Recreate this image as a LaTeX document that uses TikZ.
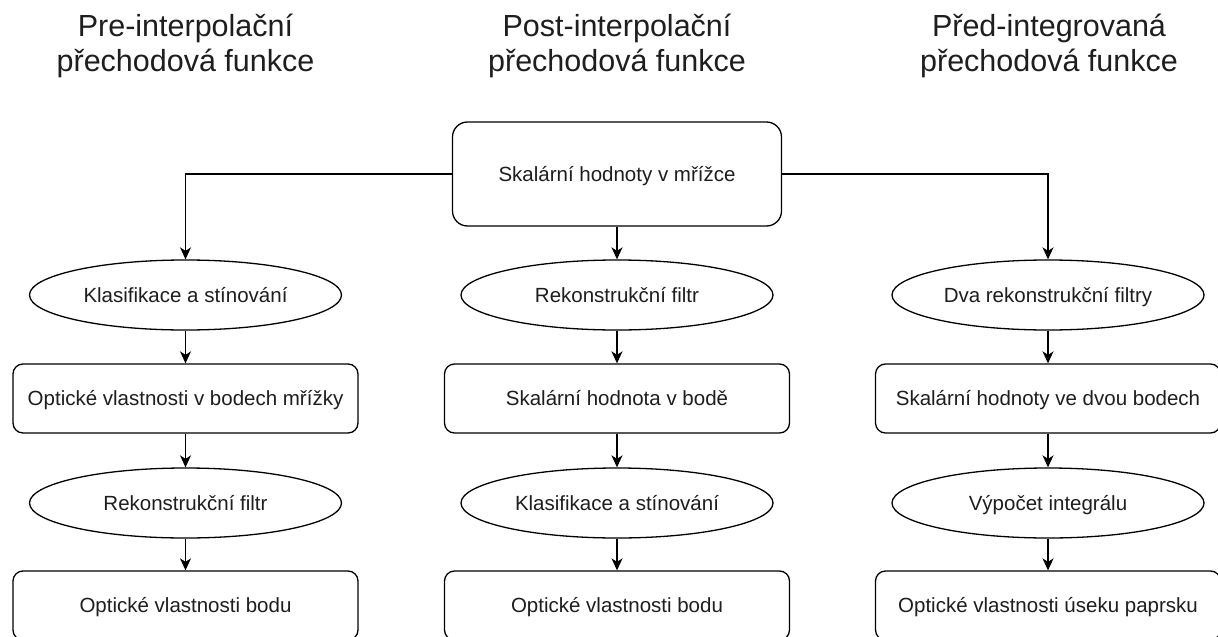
\documentclass[tikz,border=0pt]{standalone}
\usepackage{fontspec}
\setmainfont{Liberation Sans}
\usetikzlibrary{arrows.meta,shapes.geometric}
\definecolor{txt}{HTML}{1E1E1E}
\begin{document}
\begin{tikzpicture}[x=1pt,y=-1pt,
  conn/.style={line width=1.4pt,draw=black,-{Stealth[length=12pt,width=11pt,inset=3.5pt]}},
  title/.style={anchor=base,inner sep=0pt,text=txt,font=\fontsize{30.5}{35}\selectfont},
  shapetext/.style={font=\fontsize{20.5}{24}\selectfont,text=txt,text height=14.7pt,text depth=0pt,inner sep=0pt,fill=white,draw=black,line width=1.3pt},
  bigbox/.style={shapetext,rectangle,rounded corners=15pt,minimum width=329pt,minimum height=104pt},
  stepbox/.style={shapetext,rectangle,rounded corners=10pt,minimum width=345pt,minimum height=69pt},
  oval/.style={shapetext,ellipse,minimum width=312pt,minimum height=70pt}
]
\clip (0,0) rectangle (1218,637);
\fill[white] (0,0) rectangle (1218,637);

% titles
\node[title] (t1a) at (185.5,36.5) {Pre-interpolační};
\node[title] (t1b) at (185.5,71.5) {přechodová funkce};
\node[title] (t2a) at (617,36.5) {Post-interpolační};
\node[title] (t2b) at (617,71.5) {přechodová funkce};
\node[title] (t3a) at (1049,36.5) {Před-integrovaná};
\node[title] (t3b) at (1049,71.5) {přechodová funkce};

% top
\node[bigbox] (top) at (617,174) {Skalární hodnoty v mřížce};

% left column
\node[oval] (l1) at (185.5,295) {Klasifikace a stínování};
\node[stepbox] (l2) at (185.5,398.5) {Optické vlastnosti v bodech mřížky};
\node[oval] (l3) at (185.5,503) {Rekonstrukční filtr};
\node[stepbox] (l4) at (185.5,605.5) {Optické vlastnosti bodu};

% middle column
\node[oval] (m1) at (617,295) {Rekonstrukční filtr};
\node[stepbox] (m2) at (617,398.5) {Skalární hodnota v bodě};
\node[oval] (m3) at (617,503) {Klasifikace a stínování};
\node[stepbox] (m4) at (617,605.5) {Optické vlastnosti bodu};

% right column
\node[oval] (r1) at (1048,295) {Dva rekonstrukční filtry};
\node[stepbox] (r2) at (1048,398.5) {Skalární hodnoty ve dvou bodech};
\node[oval] (r3) at (1048,503) {Výpočet integrálu};
\node[stepbox] (r4) at (1048,605.5) {Optické vlastnosti úseku paprsku};

% connectors
\draw[conn] (top.west) -| (l1.north);
\draw[conn] (top.south) -- (m1.north);
\draw[conn] (top.east) -| (r1.north);
\draw[conn] (l1.south) -- (l2.north);
\draw[conn] (l2.south) -- (l3.north);
\draw[conn] (l3.south) -- (l4.north);
\draw[conn] (m1.south) -- (m2.north);
\draw[conn] (m2.south) -- (m3.north);
\draw[conn] (m3.south) -- (m4.north);
\draw[conn] (r1.south) -- (r2.north);
\draw[conn] (r2.south) -- (r3.north);
\draw[conn] (r3.south) -- (r4.north);
\end{tikzpicture}
\end{document}
